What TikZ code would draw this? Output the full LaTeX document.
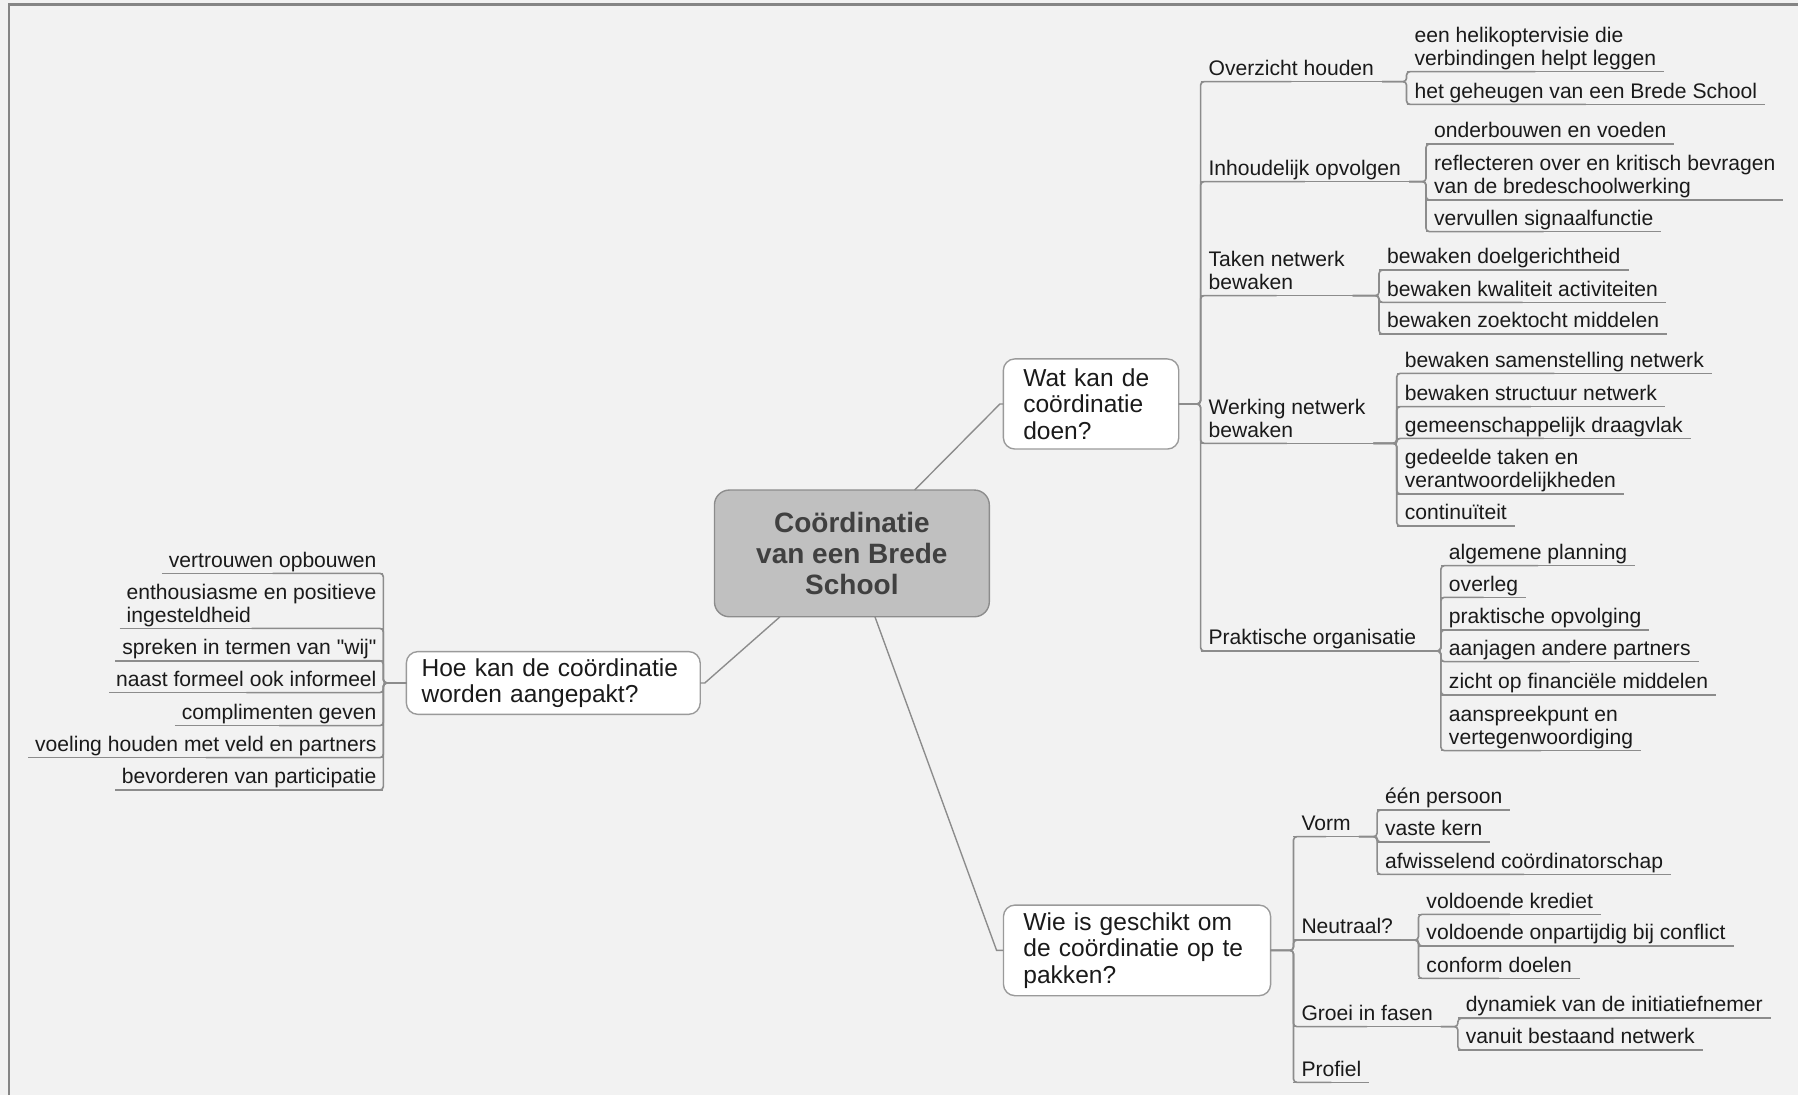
\documentclass[tikz,border=0pt]{standalone}
\usepackage{fontspec}
\setmainfont{Liberation Sans}[Ligatures=TeXOff]
\definecolor{bgc}{HTML}{F2F2F2}
\definecolor{linegray}{HTML}{8C8C8C}
\definecolor{framegray}{HTML}{858585}
\definecolor{boxgray}{HTML}{9A9A9A}
\definecolor{textc}{HTML}{1A1A1A}
\definecolor{centfill}{HTML}{C0C0C0}
\definecolor{centdraw}{HTML}{8C8C8C}
\definecolor{centtext}{HTML}{404040}
\begin{document}
\begin{tikzpicture}[x=0.5pt,y=-0.5pt,
  conn/.style={draw=linegray, line width=0.7pt, rounded corners=1.5pt},
  uline/.style={draw=linegray, line width=0.7pt},
  mainconn/.style={draw=linegray, line width=0.6pt},
  item/.style={font=\fontsize{9.2pt}{10pt}\selectfont, text=textc, align=left,
    inner xsep=3.5pt, inner ysep=0pt, outer sep=0pt,
    execute at end node={\rule[-2.75pt]{0pt}{0pt}}},
  ritem/.style={item, anchor=south west},
  litem/.style={item, anchor=south east, inner xsep=3pt},
  qbox/.style={draw=boxgray, fill=white, rounded corners=5pt, line width=0.6pt,
    align=left, font=\fontsize{10.7pt}{11.6pt}\selectfont, text=textc,
    inner ysep=0pt, outer sep=0pt},
  centbox/.style={draw=centdraw, fill=centfill, rounded corners=6.5pt, line width=0.6pt,
    align=center, font=\fontsize{12.2pt}{13.5pt}\selectfont\bfseries, text=centtext,
    minimum width=119.85pt, minimum height=55.25pt, inner sep=0pt, outer sep=0pt},
]
% background and frame
\fill[bgc] (0,0) rectangle (1568,955);
\useasboundingbox (0,0) rectangle (1568,955);
\draw[framegray, line width=1pt] (7.6,955) -- (7.6,3.8) -- (1568,3.8);

% central and question boxes
\node[centbox] (central) at (742.9,482.6) {Coördinatie\\van een Brede\\School};
\node[qbox, text width=59.1pt, inner xsep=8.7pt, minimum height=39.3pt] (wat) at (951.5,352.3)
  {Wat kan de\\coördinatie\\doen?};
\node[qbox, text width=114.85pt, inner xsep=6.65pt, minimum height=27.35pt] (hoe) at (482.5,595.6)
  {Hoe kan de coördinatie\\worden aangepakt?};
\node[qbox, text width=99.1pt, inner xsep=8.7pt, minimum height=39.5pt] (wie) at (991.6,828.8)
  {Wie is geschikt om\\de coördinatie op te\\pakken?};

% Wat kan de coordinatie doen? -- categories
\node[ritem] (ov)  at (1047,71.2)  {Overzicht houden};
\node[ritem] (inh) at (1047,158.4) {Inhoudelijk opvolgen};
\node[ritem] (tak) at (1047,257.8) {Taken netwerk\\bewaken};
\node[ritem] (wer) at (1047,386.6) {Werking netwerk\\bewaken};
\node[ritem] (pra) at (1047,567.7) {Praktische organisatie};

\node[ritem] (ov1) at (1226.6,62.5) {een helikoptervisie die\\verbindingen helpt leggen};
\node[ritem] (ov2) at (1226.6,91)   {het geheugen van een Brede School};

\node[ritem] (in1) at (1243.6,125.6) {onderbouwen en voeden};
\node[ritem] (in2) at (1243.6,174.4) {reflecteren over en kritisch bevragen\\van de bredeschoolwerking};
\node[ritem] (in3) at (1243.6,202)   {vervullen signaalfunctie};

\node[ritem] (ta1) at (1202.6,235.5) {bewaken doelgerichtheid};
\node[ritem] (ta2) at (1202.6,263.7) {bewaken kwaliteit activiteiten};
\node[ritem] (ta3) at (1202.6,291.3) {bewaken zoektocht middelen};

\node[ritem] (we1) at (1218.1,325.6) {bewaken samenstelling netwerk};
\node[ritem] (we2) at (1218.1,354.6) {bewaken structuur netwerk};
\node[ritem] (we3) at (1218.1,382.3) {gemeenschappelijk draagvlak};
\node[ritem] (we4) at (1218.1,430.8) {gedeelde taken en\\verantwoordelijkheden};
\node[ritem] (we5) at (1218.1,458.7) {continuïteit};

\node[ritem] (pr1) at (1256.6,493.3) {algemene planning};
\node[ritem] (pr2) at (1256.6,520.9) {overleg};
\node[ritem] (pr3) at (1256.6,549.4) {praktische opvolging};
\node[ritem] (pr4) at (1256.6,577)   {aanjagen andere partners};
\node[ritem] (pr5) at (1256.6,606.1) {zicht op financiële middelen};
\node[ritem] (pr6) at (1256.6,654.6) {aanspreekpunt en\\vertegenwoordiging};

% Wie is geschikt -- categories
\node[ritem] (vo) at (1128,729.6) {Vorm};
\node[ritem] (ne) at (1128,819.8) {Neutraal?};
\node[ritem] (gr) at (1128,895.3) {Groei in fasen};
\node[ritem] (pf) at (1128,943.9) {Profiel};

\node[ritem] (vo1) at (1200.9,706.4) {één persoon};
\node[ritem] (vo2) at (1200.9,734.3) {vaste kern};
\node[ritem] (vo3) at (1200.9,762.5) {afwisselend coördinatorschap};

\node[ritem] (ne1) at (1237,797.4) {voldoende krediet};
\node[ritem] (ne2) at (1237,825)   {voldoende onpartijdig bij conflict};
\node[ritem] (ne3) at (1237,853.2) {conform doelen};

\node[ritem] (gr1) at (1271.4,888)   {dynamiek van de initiatiefnemer};
\node[ritem] (gr2) at (1271.4,915.7) {vanuit bestaand netwerk};

% Hoe kan de coordinatie -- left items
\node[litem] (h1) at (334.3,500)   {vertrouwen opbouwen};
\node[litem] (h2) at (334.3,548)   {enthousiasme en positieve\\ingesteldheid};
\node[litem] (h3) at (334.3,576.2) {spreken in termen van "wij"};
\node[litem] (h4) at (334.3,604)   {naast formeel ook informeel};
\node[litem] (h5) at (334.3,632.8) {complimenten geven};
\node[litem] (h6) at (334.3,660.7) {voeling houden met veld en partners};
\node[litem] (h7) at (334.3,688.9) {bevorderen van participatie};

% underlines of all topics
\foreach \n in {ov,inh,tak,wer,pra,ov1,ov2,in1,in2,in3,ta1,ta2,ta3,we1,we2,we3,we4,we5,
  pr1,pr2,pr3,pr4,pr5,pr6,vo,ne,gr,pf,vo1,vo2,vo3,ne1,ne2,ne3,gr1,gr2,h1,h2,h3,h4,h5,h6,h7}
  \draw[uline] (\n.south west) -- (\n.south east);

% connectors from central topic
\draw[mainconn] (central) -- ([xshift=-1.5pt]wat.west) -- (wat.west);
\draw[mainconn] (central) -- ([xshift=2pt]hoe.east) -- (hoe.east);
\draw[mainconn] (central) -- ([xshift=-3pt]wie.west) -- (wie.west);

% brackets, right side
\foreach \c in {ov,inh,tak,wer,pra} \draw[conn] (wat.east) -| (\c.south west) -- (\c.south);
\foreach \c in {ov1,ov2} \draw[conn] (ov.south east) -| (\c.south west) -- (\c.south);
\foreach \c in {in1,in2,in3} \draw[conn] (inh.south east) -| (\c.south west) -- (\c.south);
\foreach \c in {ta1,ta2,ta3} \draw[conn] (tak.south east) -| (\c.south west) -- (\c.south);
\foreach \c in {we1,we2,we3,we4,we5} \draw[conn] (wer.south east) -| (\c.south west) -- (\c.south);
\foreach \c in {pr1,pr2,pr3,pr4,pr5,pr6} \draw[conn] (pra.south east) -| (\c.south west) -- (\c.south);

\foreach \c in {vo,ne,gr,pf} \draw[conn] (wie.east) -| (\c.south west) -- (\c.south);
\foreach \c in {vo1,vo2,vo3} \draw[conn] (vo.south east) -| (\c.south west) -- (\c.south);
\foreach \c in {ne1,ne2,ne3} \draw[conn] (ne.south east) -| (\c.south west) -- (\c.south);
\foreach \c in {gr1,gr2} \draw[conn] (gr.south east) -| (\c.south west) -- (\c.south);

% bracket, left side
\foreach \c in {h1,h2,h3,h4,h5,h6,h7} \draw[conn] (hoe.west) -| (\c.south east) -- (\c.south);
\end{tikzpicture}
\end{document}
